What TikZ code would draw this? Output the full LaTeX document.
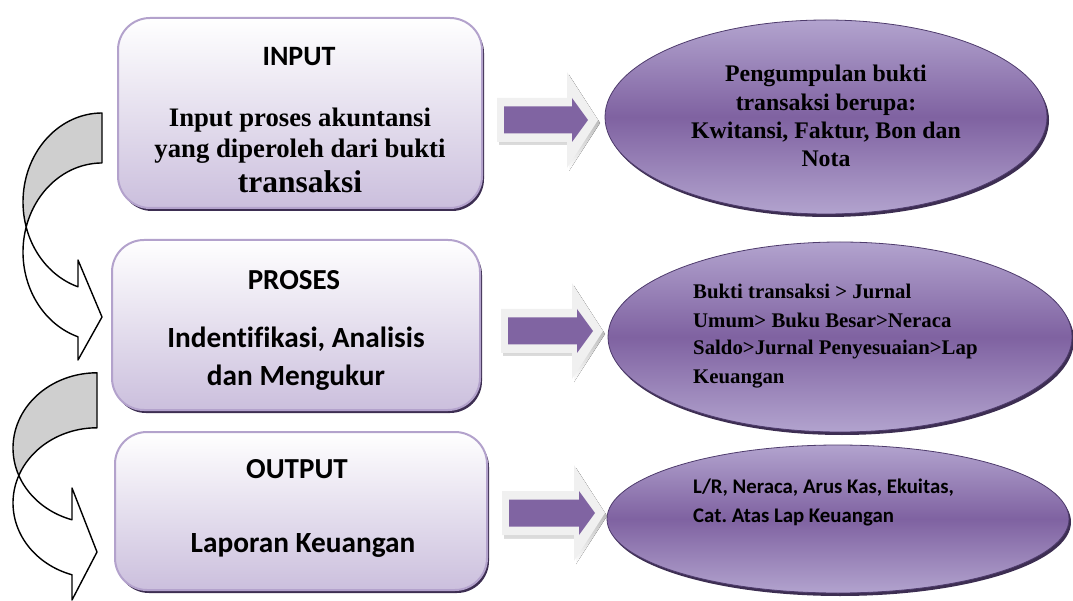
\documentclass[tikz,border=0pt]{standalone}
\usepackage{fontspec}
\setmainfont{Liberation Serif}
\newfontfamily\calfont{Carlito}[Ligatures=NoCommon]
\usetikzlibrary{shapes.geometric,shadows}
\frenchspacing

\definecolor{boxedge}{HTML}{B3A2CC}
\definecolor{boxbot}{HTML}{CBBFDD}
\definecolor{shade}{HTML}{3D2E52}
\definecolor{ellmid}{HTML}{7F62A1}
\definecolor{elledge}{HTML}{B2A3CE}
\definecolor{ellline}{HTML}{4E3B6C}
\definecolor{arrowfill}{HTML}{8064A2}
\definecolor{arrowrim}{HTML}{F0F0F0}
\definecolor{bandgray}{HTML}{CFCFCF}

\newcommand\txtsize[1]{\fontsize{#1}{#1}\selectfont}

% block arrow: #1 start x, #2 tip x, #3 centre y
\newcommand\flowarrow[3]{%
  \fill[shade] ({#1+2},{#3-19}) -- ({#2-29},{#3-19}) -- ({#2-29},{#3-45}) -- ({#2+2},{#3+3})
    -- ({#2-29},{#3+51}) -- ({#2-29},{#3+25}) -- ({#1+2},{#3+25}) -- cycle;
  \fill[arrowrim] (#1,{#3-22}) -- ({#2-31},{#3-22}) -- ({#2-31},{#3-48}) -- (#2,#3)
    -- ({#2-31},{#3+48}) -- ({#2-31},{#3+22}) -- (#1,{#3+22}) -- cycle;
  \fill[arrowfill] ({#1+7},{#3-13.5}) -- ({#2-26},{#3-13.5}) -- ({#2-26},{#3-22}) -- ({#2-10},#3)
    -- ({#2-26},{#3+22}) -- ({#2-26},{#3+13.5}) -- ({#1+7},{#3+13.5}) -- cycle;
}

\tikzset{
  procbox/.style={rectangle, rounded corners=32pt, draw=boxedge, line width=2pt,
    top color=white, bottom color=boxbot, inner sep=0pt,
    drop shadow={shadow xshift=2pt, shadow yshift=-3pt, fill=shade, opacity=1}},
  ell/.style={ellipse, inner sep=0pt, draw=ellline, line width=0.8pt,
    top color=elledge, bottom color=elledge, middle color=ellmid,
    drop shadow={shadow xshift=2pt, shadow yshift=-3pt, fill=shade, opacity=1}},
  band/.style={draw=black, line width=1.4pt, line join=round},
  txt/.style={inner sep=0pt},
  calhead/.style={txt, anchor=base, font=\calfont\bfseries\txtsize{29}},
  calbody/.style={txt, anchor=base, font=\calfont\bfseries\txtsize{29.3}},
  serbody/.style={txt, anchor=base, font=\bfseries\txtsize{26.7}},
  elltext/.style={txt, anchor=base, font=\bfseries\txtsize{23.8}},
  elltextsmall/.style={txt, anchor=base west, font=\bfseries\txtsize{20.8}},
  elltextcal/.style={txt, anchor=base west, font=\calfont\bfseries\txtsize{20.8}},
}

\begin{document}
\begin{tikzpicture}[x=1pt,y=-1pt]
\useasboundingbox (0,0) rectangle (1073,601);

% process boxes
\node[procbox, minimum width=364pt, minimum height=190pt] (input) at (300,113) {};
\node[procbox, minimum width=368pt, minimum height=170pt] (proses) at (296,325) {};
\node[procbox, minimum width=372pt, minimum height=158pt] (output) at (301,511) {};

\node[calhead, font=\calfont\bfseries\txtsize{28}] (inhead) at (299,66) {INPUT};
\node[serbody] (inl1) at (300,127) {Input proses akuntansi};
\node[serbody] (inl2) at (300,158) {yang diperoleh dari bukti};
\node[serbody, font=\bfseries\txtsize{31.5}] (inl3) at (300,193) {transaksi};

\node[calhead] (prhead) at (294,290) {PROSES};
\node[calbody] (prl1) at (296,348) {Indentifikasi, Analisis};
\node[calbody] (prl2) at (296,385) {dan Mengukur};

\node[calhead] (outhead) at (297,478) {OUTPUT};
\node[calbody] (outl1) at (303,552) {Laporan Keuangan};

% result ellipses
\node[ell, minimum width=442pt, minimum height=194pt] (e1) at (826,117) {};
\node[ell, minimum width=464pt, minimum height=190pt] (e2) at (840,337) {};
\node[ell, minimum width=462pt, minimum height=148pt] (e3) at (838,519) {};

\node[elltext] (e1l1) at (826,82) {Pengumpulan bukti};
\node[elltext] (e1l2) at (826,111) {transaksi berupa:};
\node[elltext] (e1l3) at (826,139) {Kwitansi, Faktur, Bon dan};
\node[elltext] (e1l4) at (826,167) {Nota};

\node[elltextsmall] (e2l1) at (693,299) {Bukti transaksi > Jurnal};
\node[elltextsmall] (e2l2) at (693,327) {Umum> Buku Besar>Neraca};
\node[elltextsmall] (e2l3) at (693,355) {Saldo>Jurnal Penyesuaian>Lap};
\node[elltextsmall] (e2l4) at (693,383) {Keuangan};

\node[elltextcal] (e3l1) at (693,493) {L/R, Neraca, Arus Kas, Ekuitas,};
\node[elltextcal] (e3l2) at (693,522) {Cat. Atas Lap Keuangan};

% block arrows from boxes to ellipses
\flowarrow{497}{598}{120}
\flowarrow{501}{603}{331}
\flowarrow{502}{605}{513}

% curved arrow: input -> proses
\filldraw[band, fill=bandgray] (102,113)
  -- plot[domain=270:163.7, samples=40] ({102+79*cos(\x)},{202+89*sin(\x)})
  -- plot[domain=196.3:270, samples=40] ({102+79*cos(\x)},{252+89*sin(\x)}) -- cycle;
\filldraw[band, fill=white]
  plot[domain=196.3:107.7, samples=40] ({102+79*cos(\x)},{252+89*sin(\x)})
  -- (78,360) -- (102,317) -- (78,260)
  -- plot[domain=107.7:163.7, samples=40] ({102+79*cos(\x)},{202+89*sin(\x)}) -- cycle;

% curved arrow: proses -> output
\filldraw[band, fill=bandgray] (97,373)
  -- plot[domain=270:158.5, samples=40] ({97+84*cos(\x)},{448+75.2*sin(\x)})
  -- plot[domain=201.5:270, samples=40] ({97+84*cos(\x)},{503+75.2*sin(\x)}) -- cycle;
\filldraw[band, fill=white]
  plot[domain=201.5:107.3, samples=40] ({97+84*cos(\x)},{503+75.2*sin(\x)})
  -- (72,600) -- (97,552) -- (72,488)
  -- plot[domain=107.3:158.5, samples=40] ({97+84*cos(\x)},{448+75.2*sin(\x)}) -- cycle;
\end{tikzpicture}
\end{document}
